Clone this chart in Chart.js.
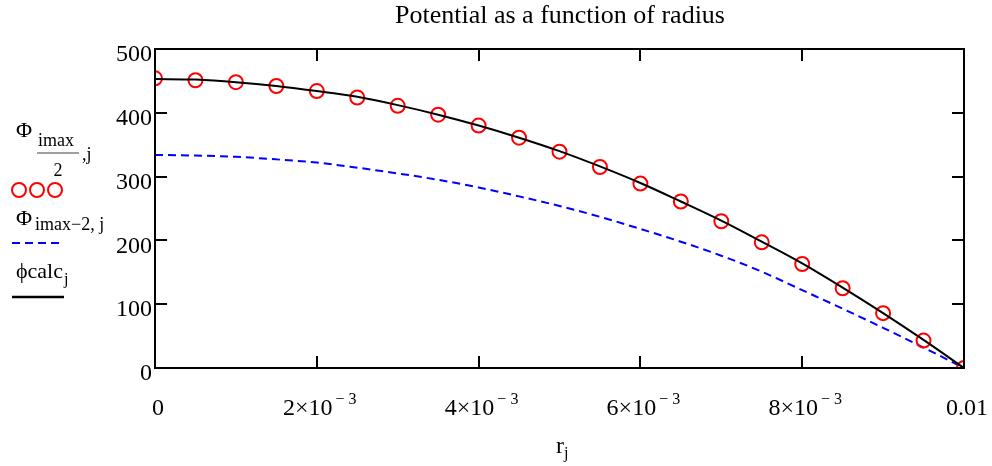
<!DOCTYPE html>
<html>
<head>
<meta charset="utf-8">
<script src="https://cdn.jsdelivr.net/npm/chart.js@4.4.1/dist/chart.umd.min.js"></script>
<style>
  body { margin: 0; background: #fff; }
  #wrap { width: 992px; height: 466px; }
</style>
</head>
<body>
<div id="wrap"><canvas id="potChart" width="992" height="466"></canvas></div>
<script>
// radius values (m)
const rValues = [0, 0.0005, 0.001, 0.0015, 0.002, 0.0025, 0.003, 0.0035, 0.004, 0.0045,
    0.005, 0.0055, 0.006, 0.0065, 0.007, 0.0075, 0.008, 0.0085, 0.009, 0.0095, 0.01];
// Φ(imax/2, j) - red circles
const phiMid = [454, 451, 448, 442, 434, 424, 411, 397, 380, 361,
    339, 315, 289, 261, 230, 197, 163, 125, 86, 43, 0];
// Φ(imax-2, j) - blue dashed
const phiEdge = [334, 333, 331, 327, 322, 314, 305, 295, 283, 269,
    254, 237, 218, 198, 176, 151, 122, 93, 63, 32, 0];
// φcalc(j) - black line
const phiCalc = [453, 452, 448, 442, 434, 425, 412, 397, 380, 361,
    340, 316, 290, 261, 231, 198, 164, 126, 86, 44, 0];

const yTicks = [0, 100, 200, 300, 400, 500];
const xTicks = [0, 0.002, 0.004, 0.006, 0.008, 0.01];
const xTickBase = ['0', '2×10', '4×10', '6×10', '8×10', '0.01'];
const xTickExp = ['', '− 3', '− 3', '− 3', '− 3', ''];

const SERIF = '"Liberation Serif", "Times New Roman", serif';

/*
 * 좌표 배열 생성
 * xs, ys : 같은 길이의 배열
 * 반환값 : {x, y} 배열
 * */
const toPoints = function (xs, ys) {
    return xs.map((x, i) => ({ x: x, y: ys[i] }));
};

/*
 * 축 프레임, 안쪽 눈금, 제목, x 라벨, 왼쪽 범례 그리기
 * */
const mathcadDecor = {
    id: 'mathcadDecor',
    afterDraw(chart) {
        const ctx = chart.ctx;
        const a = chart.chartArea;
        const xs = chart.scales.x;
        const ys = chart.scales.y;
        const tick = 12;

        ctx.save();
        ctx.strokeStyle = '#000';
        ctx.lineWidth = 2;
        ctx.strokeRect(a.left, a.top, a.right - a.left, a.bottom - a.top);

        ctx.beginPath();
        xTicks.forEach(v => {
            const px = Math.round(xs.getPixelForValue(v));
            ctx.moveTo(px, a.bottom); ctx.lineTo(px, a.bottom - tick);
            ctx.moveTo(px, a.top); ctx.lineTo(px, a.top + tick);
        });
        yTicks.forEach(v => {
            const py = Math.round(ys.getPixelForValue(v));
            ctx.moveTo(a.left, py); ctx.lineTo(a.left + tick, py);
            ctx.moveTo(a.right, py); ctx.lineTo(a.right - tick, py);
        });
        ctx.stroke();

        ctx.fillStyle = '#000';
        ctx.textBaseline = 'alphabetic';

        // title
        ctx.font = '26px ' + SERIF;
        ctx.textAlign = 'center';
        ctx.fillText('Potential as a function of radius', 560, 23);

        // x tick labels with exponent
        ctx.textAlign = 'left';
        xTicks.forEach((v, i) => {
            const px = xs.getPixelForValue(v);
            ctx.font = '24px ' + SERIF;
            const wb = ctx.measureText(xTickBase[i]).width;
            ctx.font = '16px ' + SERIF;
            const we = xTickExp[i] ? ctx.measureText(xTickExp[i]).width + 3 : 0;
            const x0 = px - (wb + we) / 2 + 3;
            ctx.font = '24px ' + SERIF;
            ctx.fillText(xTickBase[i], x0, 415);
            if (xTickExp[i]) {
                ctx.font = '16px ' + SERIF;
                ctx.fillText(xTickExp[i], x0 + wb + 3, 404);
            }
        });

        // x axis title r_j
        ctx.font = '24px ' + SERIF;
        ctx.fillText('r', 556, 453);
        ctx.font = '16px ' + SERIF;
        ctx.fillText('j', 564, 458);

        // legend : Φ imax/2 , j
        ctx.font = '22px ' + SERIF;
        ctx.fillText('Φ', 16, 137);
        ctx.font = '18px ' + SERIF;
        ctx.fillText('imax', 38, 146);
        ctx.textAlign = 'center';
        ctx.fillText('2', 58, 176);
        ctx.textAlign = 'left';
        ctx.fillText(',j', 82, 160);
        ctx.strokeStyle = '#808080';
        ctx.lineWidth = 1.5;
        ctx.beginPath();
        ctx.moveTo(37, 153); ctx.lineTo(79, 153);
        ctx.stroke();

        ctx.strokeStyle = '#ff0000';
        ctx.lineWidth = 2;
        [19, 37, 55].forEach(cx => {
            ctx.beginPath();
            ctx.arc(cx, 190, 7, 0, Math.PI * 2);
            ctx.stroke();
        });

        // legend : Φ imax-2, j
        ctx.font = '22px ' + SERIF;
        ctx.fillText('Φ', 16, 225);
        ctx.font = '18px ' + SERIF;
        ctx.fillText('imax−2, j', 35, 230);
        ctx.strokeStyle = '#0000ff';
        ctx.setLineDash([8, 5]);
        ctx.beginPath();
        ctx.moveTo(12, 243); ctx.lineTo(64, 243);
        ctx.stroke();
        ctx.setLineDash([]);

        // legend : ϕcalc j
        ctx.font = '22px ' + SERIF;
        ctx.fillText('ϕcalc', 16, 278);
        const wc = ctx.measureText('ϕcalc').width;
        ctx.font = '16px ' + SERIF;
        ctx.fillText('j', 16 + wc + 1, 284);
        ctx.strokeStyle = '#000';
        ctx.lineWidth = 2.5;
        ctx.beginPath();
        ctx.moveTo(12, 297); ctx.lineTo(64, 297);
        ctx.stroke();

        ctx.restore();
    }
};

document.addEventListener("DOMContentLoaded", function () {
    const ctx = document.getElementById('potChart').getContext('2d');

    new Chart(ctx, {
        type: 'line',
        data: {
            datasets: [{
                label: 'phicalc',
                data: toPoints(rValues, phiCalc),
                borderColor: '#000000',
                borderWidth: 2,
                pointRadius: 0,
                cubicInterpolationMode: 'monotone',
                order: 0
            }, {
                label: 'Phi imax/2',
                data: toPoints(rValues, phiMid),
                showLine: false,
                pointStyle: 'circle',
                pointRadius: 7,
                pointBorderWidth: 2,
                pointBorderColor: '#ff0000',
                pointBackgroundColor: 'rgba(0,0,0,0)',
                order: 1
            }, {
                label: 'Phi imax-2',
                data: toPoints(rValues, phiEdge),
                borderColor: '#0000ff',
                borderWidth: 2,
                borderDash: [8, 5],
                pointRadius: 0,
                cubicInterpolationMode: 'monotone',
                order: 2
            }]
        },
        options: {
            responsive: false,
            animation: false,
            layout: {
                padding: { top: 49, right: 28, left: 0, bottom: 0 }
            },
            plugins: {
                legend: { display: false },
                tooltip: { enabled: false },
                title: { display: false }
            },
            scales: {
                x: {
                    type: 'linear',
                    min: 0,
                    max: 0.01,
                    ticks: { display: false, stepSize: 0.002 },
                    grid: { display: false, drawTicks: false },
                    border: { display: false },
                    afterFit: function (scale) { scale.height = 98; }
                },
                y: {
                    min: 0,
                    max: 500,
                    ticks: {
                        stepSize: 100,
                        color: '#000',
                        padding: 3,
                        labelOffset: 6,
                        font: { family: SERIF, size: 24 }
                    },
                    grid: { display: false, drawTicks: false },
                    border: { display: false },
                    afterFit: function (scale) { scale.width = 155; }
                }
            }
        },
        plugins: [mathcadDecor]
    });
});
</script>
</body>
</html>
